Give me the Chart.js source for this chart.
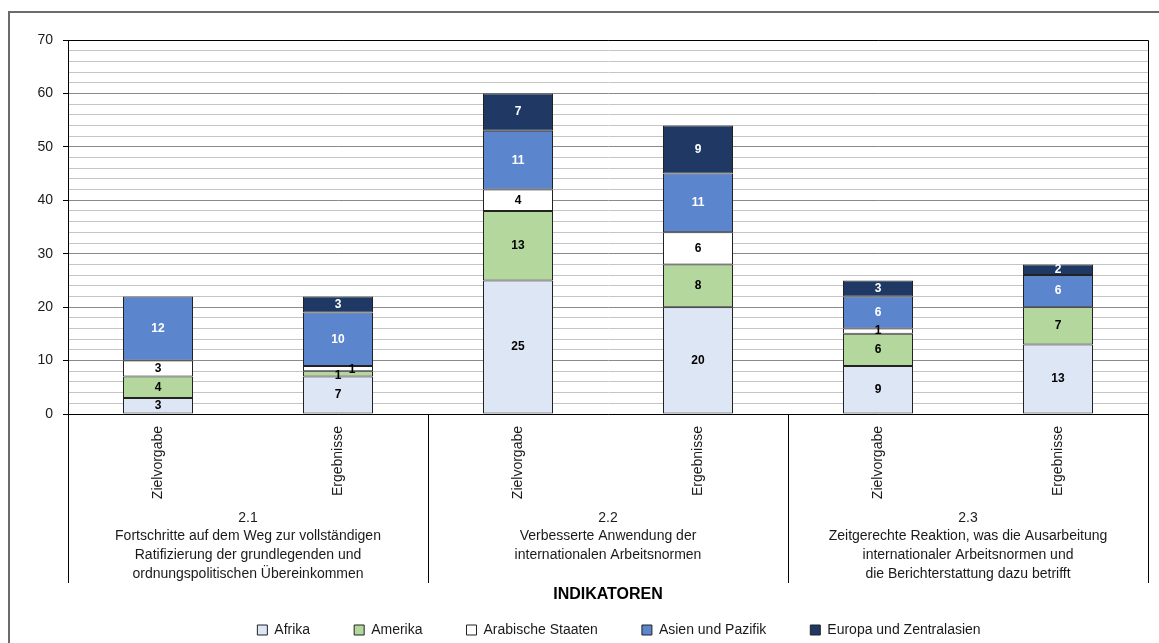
<!DOCTYPE html>
<html>
<head>
<meta charset="utf-8">
<script src="https://cdn.jsdelivr.net/npm/chart.js@4"></script>
<style>
  html, body { margin: 0; padding: 0; background: #fff; }
  #box { width: 1159px; height: 643px; position: relative; }
</style>
</head>
<body>
<div id="box"><canvas id="grafik"></canvas></div>
<script>
// Balken (je Indikator Zielvorgabe + Ergebnisse)
const balken = ['Zielvorgabe', 'Ergebnisse', 'Zielvorgabe', 'Ergebnisse', 'Zielvorgabe', 'Ergebnisse'];

const gruppen = [
  ['2.1', 'Fortschritte auf dem Weg zur vollständigen', 'Ratifizierung der grundlegenden und', 'ordnungspolitischen Übereinkommen'],
  ['2.2', 'Verbesserte Anwendung der', 'internationalen Arbeitsnormen'],
  ['2.3', 'Zeitgerechte Reaktion, was die Ausarbeitung', 'internationaler Arbeitsnormen und', 'die Berichterstattung dazu betrifft']
];

const afrika    = [3, 7, 25, 20, 9, 13];
const amerika   = [4, 1, 13, 8, 6, 7];
const arabisch  = [3, 1, 4, 6, 1, 0];
const asien     = [12, 10, 11, 11, 6, 6];
const europa    = [0, 3, 7, 9, 3, 2];

const yTicks = [0, 10, 20, 30, 40, 50, 60, 70];

const schrift = '"Liberation Sans", Arial, sans-serif';

function serie(name, werte, farbe, textFarbe) {
  return {
    label: name,
    data: werte,
    backgroundColor: farbe,
    borderColor: '#222',
    borderWidth: 1,
    borderSkipped: false,
    textFarbe: textFarbe
  };
}

function hoehe(chart, di, i) {
  const ds = chart.data.datasets[di];
  if (!ds || !ds.data[i]) return null;
  const p = chart.getDatasetMeta(di).data[i].getProps(['y', 'base'], true);
  return Math.abs(p.base - p.y);
}

// 🔹 Werte in den Segmenten + Rahmen, Trennlinien, Gruppentexte
const extras = {
  id: 'extras',
  afterLayout(chart) {
    // Legende etwas nach rechts wie im Original
    chart.legend.left += 45;
    chart.legend.right += 45;
  },
  afterDatasetsDraw(chart) {
    const c = chart.ctx;
    const a = chart.chartArea;
    const x = chart.scales.x;

    // Werte
    c.save();
    c.font = 'bold 12px ' + schrift;
    c.textAlign = 'center';
    c.textBaseline = 'middle';
    chart.data.datasets.forEach((ds, di) => {
      const meta = chart.getDatasetMeta(di);
      meta.data.forEach((el, i) => {
        const v = ds.data[i];
        if (!v) return;
        const p = el.getProps(['x', 'y', 'base'], true);
        let lx = p.x;
        let ly = (p.y + p.base) / 2;
        const h = Math.abs(p.base - p.y);
        // zwei dünne Segmente übereinander: Beschriftungen auseinanderziehen
        if (h < 8) {
          const vorH = hoehe(chart, di - 1, i);
          const nachH = hoehe(chart, di + 1, i);
          if (vorH !== null && vorH < 8) { lx += 14; ly += 1; }
          else if (nachH !== null && nachH < 8) { ly += 2; }
        }
        c.fillStyle = ds.textFarbe;
        c.fillText(String(v), lx, ly);
      });
    });
    c.restore();

    // Rahmen Diagrammfläche
    c.save();
    c.strokeStyle = '#000';
    c.lineWidth = 1;
    c.beginPath();
    c.moveTo(a.left, a.top + 0.5);
    c.lineTo(a.right + 0.5, a.top + 0.5);
    c.lineTo(a.right + 0.5, a.bottom);
    c.stroke();

    // Trennlinien der Gruppen
    const unten = a.bottom + 169;
    const grenzen = [a.left + 0.5];
    for (let g = 1; g < gruppen.length; g++) {
      grenzen.push(Math.round((x.getPixelForValue(g * 2 - 1) + x.getPixelForValue(g * 2)) / 2) + 0.5);
    }
    grenzen.push(a.right + 0.5);
    c.beginPath();
    grenzen.forEach(gx => { c.moveTo(gx, a.bottom); c.lineTo(gx, unten); });
    c.stroke();

    // Gruppentexte
    c.fillStyle = '#1a1a1a';
    c.font = '14px ' + schrift;
    c.textAlign = 'center';
    c.textBaseline = 'middle';
    gruppen.forEach((zeilen, g) => {
      const mx = (x.getPixelForValue(g * 2) + x.getPixelForValue(g * 2 + 1)) / 2;
      zeilen.forEach((t, z) => c.fillText(t, mx, a.bottom + 104 + z * 18.6));
    });

    // Achsentitel
    c.font = 'bold 16px ' + schrift;
    c.fillStyle = '#000';
    c.fillText('INDIKATOREN', (a.left + a.right) / 2, a.bottom + 181);

    // äußerer Rahmen
    c.strokeStyle = '#6b6b6b';
    c.lineWidth = 2;
    c.beginPath();
    c.moveTo(9, chart.height);
    c.lineTo(9, 12);
    c.lineTo(chart.width, 12);
    c.stroke();
    c.restore();
  }
};

const ctx = document.getElementById('grafik').getContext('2d');

const grafik = new Chart(ctx, {
  type: 'bar',
  data: {
    labels: balken,
    datasets: [
      serie('Afrika', afrika, '#dde6f4', '#000'),
      serie('Amerika', amerika, '#b3d79c', '#000'),
      serie('Arabische Staaten', arabisch, '#ffffff', '#000'),
      serie('Asien und Pazifik', asien, '#5b85cd', '#fff'),
      serie('Europa und Zentralasien', europa, '#1f3864', '#fff')
    ]
  },
  options: {
    responsive: true,
    maintainAspectRatio: false,
    animation: false,
    devicePixelRatio: 1,
    layout: { padding: { left: 0, right: 11, top: 40, bottom: -4 } },
    datasets: {
      bar: { barPercentage: 1, categoryPercentage: 70 / 180 }
    },
    plugins: {
      tooltip: { enabled: false },
      legend: {
        position: 'bottom',
        labels: {
          boxWidth: 10,
          boxHeight: 10,
          padding: 44,
          color: '#1a1a1a',
          font: { family: schrift, size: 14 }
        }
      }
    },
    scales: {
      x: {
        stacked: true,
        grid: { display: false },
        border: { display: true, color: '#000', width: 1 },
        ticks: {
          minRotation: 90,
          maxRotation: 90,
          padding: 4,
          color: '#1a1a1a',
          font: { family: schrift, size: 14 }
        },
        afterFit: (s) => { s.height = 165; }
      },
      y: {
        stacked: true,
        min: 0,
        max: 70,
        border: { display: true, color: '#000', width: 1 },
        grid: {
          color: (c) => (c.tick && yTicks.includes(c.tick.value)) ? '#8a8a8a' : '#c4c4c4',
          tickColor: (c) => (c.tick && yTicks.includes(c.tick.value)) ? '#000' : 'rgba(0,0,0,0)',
          tickLength: 5,
          lineWidth: 1
        },
        ticks: {
          stepSize: 2,
          autoSkip: false,
          padding: 10,
          color: '#1a1a1a',
          font: { family: schrift, size: 14 },
          callback: (v) => yTicks.includes(v) ? String(v) : ''
        },
        afterFit: (s) => { s.width = 68; }
      }
    }
  },
  plugins: [extras]
});
</script>
</body>
</html>
